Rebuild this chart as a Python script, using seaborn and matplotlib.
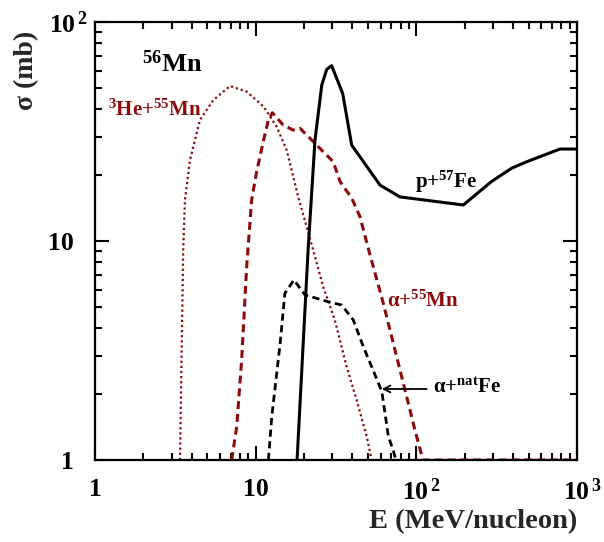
import numpy as np
import pandas as pd
import matplotlib
matplotlib.use("Agg")
import matplotlib.pyplot as plt
import matplotlib.ticker as mticker
import matplotlib.transforms as mtransforms
import seaborn as sns

# ---- data ----
p57Fe_E = [18.1, 21.2, 23.4, 25.8, 27.7, 29.7, 34.8, 39.6, 59.4, 79, 196, 294, 392, 486, 783, 1000]
p57Fe_s = [1.0, 9.1, 28.9, 51.6, 60.8, 63.2, 47.2, 27.4, 18.0, 15.9, 14.6, 18.7, 21.5, 23.0, 26.3, 26.3]

aFe_E = [12.0, 12.6, 14.2, 15.2, 17.3, 20.3, 28.3, 34.3, 40.5, 46.8, 56.6, 61, 67, 72, 74.5]
aFe_s = [1.0, 1.58, 3.41, 5.77, 6.64, 5.67, 5.28, 5.1, 4.36, 3.29, 2.35, 2.05, 1.28, 1.1, 1.0]

aMn_E = [7.09, 7.62, 8.18, 8.79, 9.44, 10.1, 11.2, 12.0, 12.7, 14.8, 17.1, 18.9, 23.4, 30.4, 33.5,
         39.6, 44.6, 50.2, 62.3, 83, 98, 110, 1000]
aMn_s = [1.0, 1.42, 2.86, 7.63, 15.4, 20.4, 28.9, 35.7, 38.5, 33.9, 32.1, 32.7, 27.9, 23.0, 18.7,
         15.7, 12.9, 9.26, 5.19, 2.24, 1.37, 1.0, 1.0]

He3_E = [3.38, 3.54, 3.63, 3.90, 4.50, 5.45, 6.92, 8.79, 11.2, 13.5, 15.6, 18.4, 22.8, 26.3, 31.1,
         36.8, 42.5, 49.1, 52.7, 1000]
He3_s = [1.0, 9.1, 15.4, 23.4, 35.7, 44.0, 51.0, 48.1, 41.1, 33.3, 26.0, 15.9, 9.1, 6.19, 4.36,
         2.67, 1.88, 1.28, 1.0, 1.0]

x_ticks = [1, 10, 100, 1000]
x_ticklabels = ["1", "10", r"$10^{\,2}$", r"$10^{\,3}$"]
y_ticks = [1, 10, 100]
y_ticklabels = ["1", "10", r"$10^{\,2}$"]

DARKRED = "#8c0a0a"

sns.set_theme(style="ticks")
plt.rcParams["font.family"] = ["Liberation Serif", "DejaVu Serif"]
plt.rcParams["font.weight"] = "bold"
plt.rcParams["mathtext.fontset"] = "custom"
plt.rcParams["mathtext.rm"] = "Liberation Serif:bold"
plt.rcParams["mathtext.bf"] = "Liberation Serif:bold"
plt.rcParams["mathtext.it"] = "Liberation Serif:bold"
plt.rcParams["mathtext.sf"] = "Liberation Serif"
plt.rcParams["mathtext.default"] = "rm"

fig = plt.figure(figsize=(6.04, 5.42), dpi=100)
ax = fig.add_axes([95 / 604, 1 - 460 / 542, 482 / 604, 438 / 542])

def draw(E, s, **kw):
    df = pd.DataFrame({"E": E, "s": s})
    sns.lineplot(data=df, x="E", y="s", sort=False, estimator=None, ax=ax, **kw)

draw(He3_E, He3_s, color=DARKRED, linewidth=1.6, linestyle=(0, (1, 1.3)))
draw(aMn_E, aMn_s, color=DARKRED, linewidth=2.2, linestyle=(0, (2.6, 1.6)))
draw(aFe_E, aFe_s, color="black", linewidth=2.0, linestyle=(0, (2.6, 1.6)))
draw(p57Fe_E, p57Fe_s, color="black", linewidth=2.2, linestyle="-")

ax.set_xscale("log")
ax.set_yscale("log")
ax.set_xlim(1, 1000)
ax.set_ylim(1, 100)

ax.xaxis.set_major_locator(mticker.FixedLocator(x_ticks))
ax.xaxis.set_major_formatter(mticker.FixedFormatter(x_ticklabels))
ax.yaxis.set_major_locator(mticker.FixedLocator(y_ticks))
ax.yaxis.set_major_formatter(mticker.FixedFormatter(y_ticklabels))
ax.xaxis.set_minor_locator(mticker.LogLocator(base=10, subs=np.arange(2, 10), numticks=20))
ax.yaxis.set_minor_locator(mticker.LogLocator(base=10, subs=np.arange(2, 10), numticks=20))
ax.xaxis.set_minor_formatter(mticker.NullFormatter())
ax.yaxis.set_minor_formatter(mticker.NullFormatter())

ax.tick_params(which="both", direction="in", top=True, right=True, width=1.5, colors="black")
ax.tick_params(which="major", length=10, labelsize=18.5)
ax.tick_params(which="minor", length=5)
ax.tick_params(axis="y", which="major", pad=15)
ax.tick_params(axis="x", which="major", pad=13)
for sp in ax.spines.values():
    sp.set_linewidth(1.6)
    sp.set_color("black")

ax.set_xlabel("E (MeV/nucleon)", fontsize=20.5, fontweight="bold", ha="right", va="top")
ax.xaxis.set_label_coords(1.0, -0.112)
ax.set_ylabel("σ (mb)", fontsize=20, fontweight="bold", ha="center", va="bottom")
ax.yaxis.set_label_coords(-0.115, 0.89)

ax.text(1.96, 59.1, r"$^{56}$Mn", fontsize=19, fontweight="bold", color="black", ha="left", va="baseline")
ax.text(1.205, 37.2, r"$^{3}$He+$^{55}$Mn", fontsize=15, fontweight="bold", color=DARKRED, ha="left", va="baseline")
ax.text(98.1, 17.46, r"p+$^{57}$Fe", fontsize=15, fontweight="bold", color="black", ha="left", va="baseline")
ax.text(65.4, 5.01, r"$\mathsf{α}$+$^{55}$Mn", fontsize=15, fontweight="bold", color=DARKRED, ha="left", va="baseline")
ax.text(127, 2.02, r"$\mathsf{α}$+$^{nat}$Fe", fontsize=15, fontweight="bold", color="black", ha="left", va="baseline")
ax.annotate("", xy=(60.9, 2.11), xytext=(116, 2.11),
            arrowprops=dict(arrowstyle="->", color="black", lw=1.3, shrinkA=0, shrinkB=0))

# shift the power-of-ten labels so the "10" part sits where the reference puts it
xt = ax.xaxis.get_major_ticks()
for i in (2, 3):
    lab = xt[i].label1
    lab.set_transform(lab.get_transform() + mtransforms.ScaledTranslation(5 / 100, 0, fig.dpi_scale_trans))
yt = ax.yaxis.get_major_ticks()
lab = yt[2].label1
lab.set_transform(lab.get_transform() + mtransforms.ScaledTranslation(14 / 100, 0, fig.dpi_scale_trans))
for lab in ax.get_xticklabels() + ax.get_yticklabels():
    lab.set_fontweight("bold")

fig.savefig("out.png", dpi=100)
